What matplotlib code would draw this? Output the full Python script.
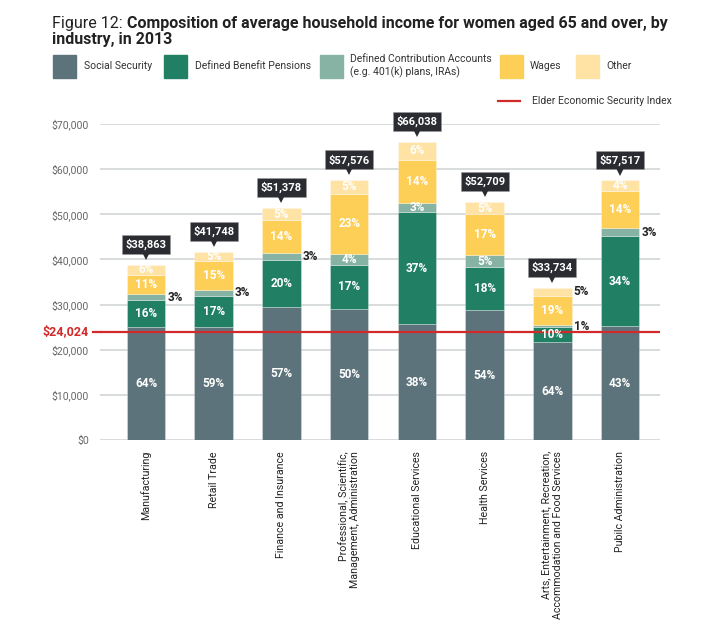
import matplotlib
matplotlib.use("Agg")
import matplotlib.pyplot as plt
from matplotlib.patches import Rectangle
from matplotlib.lines import Line2D
from matplotlib import transforms
import numpy as np

plt.rcParams['font.family'] = ['Roboto', 'DejaVu Sans']
title_size = 11.5

categories = ["Manufacturing", "Retail Trade", "Finance and Insurance",
              "Professional, Scientific,\nManagement, Administration",
              "Educational Services", "Health Services",
              "Arts, Entertainment, Recreation,\nAccommodation and Food Services",
              "Pubilc Administration"]
totals = [38863, 41748, 51378, 57576, 66038, 52709, 33734, 57517]

social_security = [24960, 24960, 29530, 29020, 25620, 28720, 21700, 25250]
defined_benefit = [6050, 7010, 10340, 9820, 24880, 9600, 3300, 19940]
defined_contrib = [1260, 1260, 1480, 2360, 2000, 2580, 440, 1770]
wages = [4280, 6420, 7380, 13360, 9520, 9160, 6500, 8260]
other = [2313, 2098, 2648, 3016, 4018, 2649, 1794, 2297]

pct_ss = [64, 59, 57, 50, 38, 54, 64, 43]
pct_db = [16, 17, 20, 17, 37, 18, 10, 34]
pct_dc = [3, 3, 3, 4, 3, 5, 1, 3]
pct_wages = [11, 15, 14, 23, 14, 17, 19, 14]
pct_other = [6, 5, 5, 5, 6, 5, 5, 4]

# which labels sit outside (to the right of) the bar
dc_outside = [True, True, True, False, False, False, True, True]
other_outside = [False, False, False, False, False, False, True, False]

eesi = 24024
series_names = ["Social Security", "Defined Benefit Pensions",
                "Defined Contribution Accounts\n(e.g. 401(k) plans, IRAs)",
                "Wages", "Other"]
colors = ["#5d737b", "#217f63", "#86b3a3", "#fecf57", "#fee3a5"]
red = "#d12a2a"
yticks = [0, 10000, 20000, 30000, 40000, 50000, 60000, 70000]

W, H = 708, 622
fig = plt.figure(figsize=(W / 100, H / 100), dpi=100)
ax = fig.add_axes([100 / W, 1 - 440 / H, 560 / W, 316 / H])

x = np.arange(len(categories))
bw = 0.57
series = [social_security, defined_benefit, defined_contrib, wages, other]
pcts = [pct_ss, pct_db, pct_dc, pct_wages, pct_other]
bottom = np.zeros(len(x))
for k, (vals, col) in enumerate(zip(series, colors)):
    vals = np.array(vals, dtype=float)
    ax.bar(x, vals, bw, bottom=bottom, color=col, edgecolor=(1, 1, 1, 0.35),
           linewidth=0.6, zorder=3)
    for i in range(len(x)):
        yc = bottom[i] + vals[i] / 2
        outside = (k == 2 and dc_outside[i]) or (k == 4 and other_outside[i])
        if outside:
            ax.text(x[i] + bw / 2 + 0.03, yc, f"{pcts[k][i]}%", ha="left",
                    va="center", fontsize=8.5, fontweight="bold", color="#222222",
                    zorder=5)
        else:
            ax.text(x[i], yc, f"{pcts[k][i]}%", ha="center", va="center",
                    fontsize=8.5, fontweight="bold", color="white", zorder=5)
    bottom += vals

# callouts
for i in range(len(x)):
    ax.annotate(f"${totals[i]:,}", xy=(x[i], totals[i]), xytext=(0, 10.5),
                textcoords="offset points", ha="center", va="bottom",
                fontsize=8, fontweight="bold", color="white", zorder=6,
                annotation_clip=False,
                bbox=dict(boxstyle="square,pad=0.32", fc="#2a2c32", ec="#9a9a9a",
                          lw=0.4))
    tr = ax.transData + transforms.ScaledTranslation(0, 6.3 / 72, fig.dpi_scale_trans)
    ax.plot([x[i]], [totals[i]], marker="v", markersize=6, color="#2a2c32",
            transform=tr, zorder=6, clip_on=False, markeredgewidth=0)

# grid
for yv in yticks:
    ax.axhline(yv, color="#d8dcdc", lw=1.4, zorder=1)
ax.axhline(eesi, color=red, lw=1.6, zorder=4)
ax.plot([-0.78, -0.68], [eesi, eesi], color=red, lw=1.6, clip_on=False, zorder=4)

ax.set_xlim(-0.68, 7.59)
ax.set_ylim(0, 70000)
ax.set_yticks(yticks)
ax.set_yticklabels([f"${v:,}" for v in yticks], fontsize=7.5, color="#666666")
ax.tick_params(axis="both", length=0, pad=8)
ax.set_xticks(x)
ax.set_xticklabels(categories, rotation=90, fontsize=7.7, color="#222222")
for t in ax.get_xticklabels():
    t.set_multialignment("right")
ax.tick_params(axis="x", pad=8)
for s in ax.spines.values():
    s.set_visible(False)

ax.text(-0.84, eesi, f"${eesi:,}", ha="right", va="center", fontsize=9,
        fontweight="bold", color=red, transform=ax.transData)

# title
renderer = fig.canvas.get_renderer()
t1 = fig.text(52 / W, 1 - 28 / H, "Figure 12: ", fontsize=title_size, color="#222222",
              ha="left", va="baseline")
bb = t1.get_window_extent(renderer=renderer)
fig.text(bb.x1 / W, 1 - 28 / H,
         "Composition of average household income for women aged 65 and over, by",
         fontsize=title_size, fontweight="bold", color="#222222", ha="left",
         va="baseline")
fig.text(52 / W, 1 - 44 / H, "industry, in 2013", fontsize=title_size,
         fontweight="bold", color="#222222", ha="left", va="baseline")

# legend
sq_x = [53, 164, 320, 500, 576]
txt_x = [84, 195, 350, 530, 606]
for sx, tx, col, name in zip(sq_x, txt_x, colors, series_names):
    fig.add_artist(Rectangle((sx / W, 1 - 77.5 / H), 22.5 / W, 22.5 / H,
                             transform=fig.transFigure, color=col))
    fig.text(tx / W, 1 - 66 / H, name, fontsize=7.5, color="#333333",
             ha="left", va="center", linespacing=1.3)
fig.add_artist(Line2D([498 / W, 520 / W], [1 - 101 / H, 1 - 101 / H],
                      transform=fig.transFigure, color=red, lw=1.6))
fig.text(532 / W, 1 - 101 / H, "Elder Economic Security Index", fontsize=7.5,
         color="#333333", ha="left", va="center")

fig.savefig("out.png", dpi=100)
